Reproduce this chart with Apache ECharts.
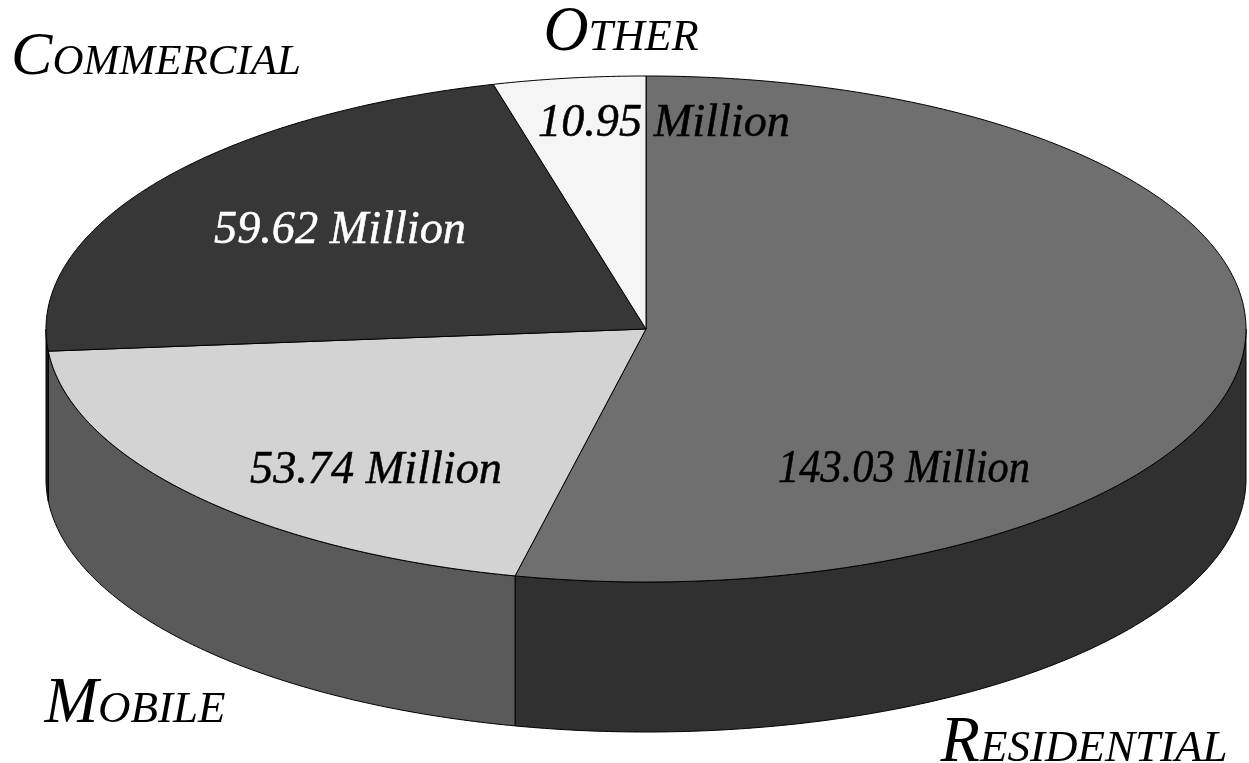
<!DOCTYPE html>
<html><head><meta charset="utf-8">
<style>html,body{margin:0;padding:0;background:#fff}#c{width:1249px;height:763px}</style>
<script src="https://cdn.jsdelivr.net/npm/echarts@6/dist/echarts.min.js"></script>
</head><body><div id="c"></div>
<script>
const categories = ['Residential','Mobile','Commercial','Other'];
const values = [143.03, 53.74, 59.62, 10.95];
const valueLabels = ['143.03 Million','53.74 Million','59.62 Million','10.95 Million'];
const topColors = ['#6f6f6f','#d3d3d3','#373737','#f5f5f5'];
const wallColors = ['#303030','#5a5a5a','#1a1a1a','#888888'];
const valueTextColors = ['#000','#000','#fff','#000'];

const CX=646, CY=329, RX=600, RY=253, DEPTH=150;
const VALUE_FONT='italic 46.5px "Liberation Serif"';
const VALUE_WIDTH=252;
const total = values.reduce((a,b)=>a+b,0);
const starts=[]; { let s=0; values.forEach(v=>{starts.push(s); s+=v;}); }
const ang = v => v/total*2*Math.PI;
const pt = (t,dy)=>[CX+RX*Math.sin(t), CY-RY*Math.cos(t)+(dy||0)];
function arcPts(a,b,dy){const n=Math.max(4,Math.ceil((b-a)/0.01));const o=[];for(let i=0;i<=n;i++)o.push(pt(a+(b-a)*i/n,dy));return o;}

const valuePos=[[904,470],[376,471],[340,231],[664,124]];
const namePos=[[1084,744],[135,705],[156,58],[621,34]];
const nameSizes=[64.5,64.5,62,62.5];
const measure=document.createElement('canvas').getContext('2d');
measure.font=VALUE_FONT;

function renderItem(params,api){
  const i=api.value(0);
  const a=ang(api.value(1)), b=a+ang(api.value(2));
  const children=[];
  const wa=Math.max(a,Math.PI/2), wb=Math.min(b,Math.PI*1.5);
  if(wb>wa){
    const top=arcPts(wa,wb,0), bot=arcPts(wa,wb,DEPTH).reverse();
    children.push({type:'polygon',shape:{points:top.concat(bot)},
      style:{fill:wallColors[i],stroke:'#000',lineWidth:1}});
  }
  children.push({type:'polygon',shape:{points:[[CX,CY]].concat(arcPts(a,b,0))},
    style:{fill:topColors[i],stroke:'#000',lineWidth:1}});
  return {type:'group',children};
}
function renderText(params,api){
  const i=api.value(0);
  const sx=Math.min(1,VALUE_WIDTH/measure.measureText(valueLabels[i]).width);
  return {type:'group',children:[
    {type:'text',x:valuePos[i][0],y:valuePos[i][1],scaleX:sx,
     style:{x:0,y:0,text:valueLabels[i],font:VALUE_FONT,fill:valueTextColors[i],
      stroke:valueTextColors[i],lineWidth:0.5,align:'center',verticalAlign:'middle'}},
    {type:'text',style:{x:namePos[i][0],y:namePos[i][1],text:categories[i],
      font:'italic small-caps '+nameSizes[i]+'px "Liberation Serif"',fill:'#000',align:'center',verticalAlign:'middle'}}
  ]};
}
const rows=values.map((v,i)=>[i,starts[i],v]);
const chart=echarts.init(document.getElementById('c'),null,{renderer:'canvas'});
chart.setOption({
  animation:false,
  backgroundColor:'#fff',
  series:[
    {type:'custom',coordinateSystem:'none',data:rows,renderItem,silent:true,z:1},
    {type:'custom',coordinateSystem:'none',data:rows,renderItem:renderText,silent:true,z:2}
  ]
});
</script></body></html>
